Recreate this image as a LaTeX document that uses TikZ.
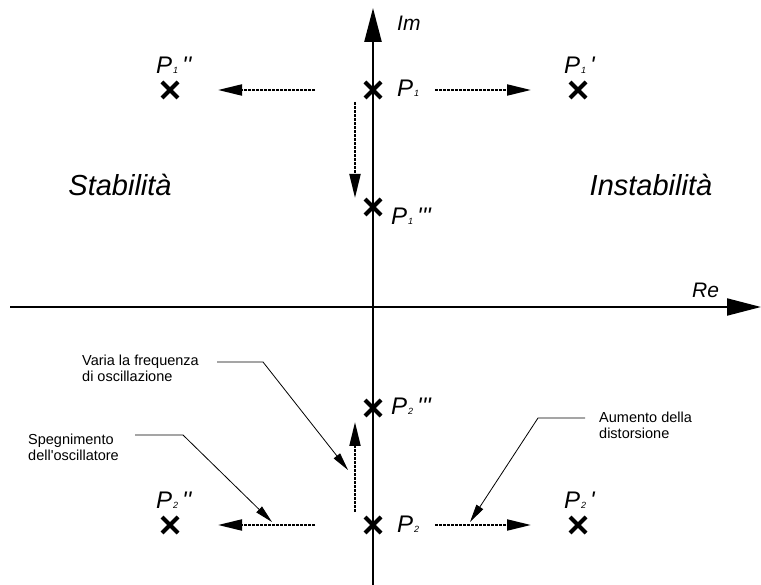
\documentclass[tikz,border=0pt]{standalone}
\usepackage{fontspec}
\newfontfamily\arl{Liberation Sans}
\usetikzlibrary{arrows.meta,shapes.misc}
\newcommand{\plab}[2]{P\kern1pt{\fontsize{9}{9}\selectfont #1}\kern4pt#2}

\begin{document}
\begin{tikzpicture}[
    x=1pt, y=-1pt,
    every node/.style={font=\arl},
    pole/.style={draw, shape=cross out, line width=4pt, minimum size=12pt, inner sep=0pt},
    axisline/.style={line width=2pt, -{Triangle[length=34pt,width=17pt]}},
    poletext/.style={font=\arl\itshape\fontsize{24}{24}\selectfont, anchor=base west, inner sep=0pt},
    axistext/.style={font=\arl\itshape\fontsize{21}{21}\selectfont, anchor=base west, inner sep=0pt},
    zonetext/.style={font=\arl\itshape\fontsize{29}{29}\selectfont, anchor=base, inner sep=0pt},
    note/.style={font=\arl\fontsize{14.5}{16}\selectfont, align=left, anchor=north west, inner sep=0pt},
    movearrow/.style={line width=2pt, dash pattern=on 3pt off 1pt, -{Triangle[length=24pt,width=11pt]}},
    leader/.style={line width=0.8pt, -{Triangle[length=18pt,width=8pt]}}
]
\useasboundingbox (0,0) rectangle (761,585);

% axes
\coordinate (reL) at (10,307);
\coordinate (reR) at (761,307);
\coordinate (imB) at (373,585);
\coordinate (imT) at (373,8);
\draw[axisline] (reL) -- (reR);
\draw[axisline, line width=2.5pt] (imB) -- (imT);
\node[axistext] (imlbl) at (397,31) {Im};
\node[axistext] (relbl) at (692,298) {Re};

% regions
\node[zonetext] (stab) at (120,196) {Stabilità};
\node[zonetext] (instab) at (651,196) {Instabilità};

% poles
\node[pole] (p1) at (373,90) {};
\node[pole] (p1a) at (578,90) {};
\node[pole] (p1b) at (170,90) {};
\node[pole] (p1c) at (373,207) {};
\node[pole] (p2) at (373,525) {};
\node[pole] (p2a) at (578,525) {};
\node[pole] (p2b) at (170,525) {};
\node[pole] (p2c) at (373,408) {};

\node[poletext] (p1lbl) at (397,97) {\plab{1}{}};
\node[poletext] (p1albl) at (564,74) {\plab{1}{'}};
\node[poletext] (p1blbl) at (156,74) {\plab{1}{''}};
\node[poletext] (p1clbl) at (391,225) {\plab{1}{'''}};
\node[poletext] (p2lbl) at (397,532) {\plab{2}{}};
\node[poletext] (p2albl) at (564,508) {\plab{2}{'}};
\node[poletext] (p2blbl) at (156,508) {\plab{2}{''}};
\node[poletext] (p2clbl) at (391,414) {\plab{2}{'''}};

% pole movements
\coordinate (m1r0) at (435,90);
\coordinate (m1r1) at (531,90);
\coordinate (m1l0) at (315,90);
\coordinate (m1l1) at (218,90);
\coordinate (m1d0) at (355,102);
\coordinate (m1d1) at (355,198);
\coordinate (m2r0) at (435,525);
\coordinate (m2r1) at (531,525);
\coordinate (m2l0) at (315,525);
\coordinate (m2l1) at (218,525);
\coordinate (m2u0) at (355,512);
\coordinate (m2u1) at (355,422);
\draw[movearrow] (m1r0) -- (m1r1);
\draw[movearrow] (m1l0) -- (m1l1);
\draw[movearrow] (m1d0) -- (m1d1);
\draw[movearrow] (m2r0) -- (m2r1);
\draw[movearrow] (m2l0) -- (m2l1);
\draw[movearrow] (m2u0) -- (m2u1);

% notes
\node[note] (varia) at (82,355) {Varia la frequenza\\di oscillazione};
\node[note] (speg) at (28,434) {Spegnimento\\dell'oscillatore};
\node[note] (aum) at (599,412) {Aumento della\\distorsione};

\coordinate (v0) at (217,362);
\coordinate (v1) at (263,362);
\coordinate (v2) at (348,470);
\coordinate (s0) at (135,435);
\coordinate (s1) at (183,435);
\coordinate (s2) at (272,522);
\coordinate (a0) at (585,418);
\coordinate (a1) at (538,418);
\coordinate (a2) at (470,522);
\draw[leader] (v0) -- (v1) -- (v2);
\draw[leader] (s0) -- (s1) -- (s2);
\draw[leader] (a0) -- (a1) -- (a2);
\end{tikzpicture}
\end{document}
